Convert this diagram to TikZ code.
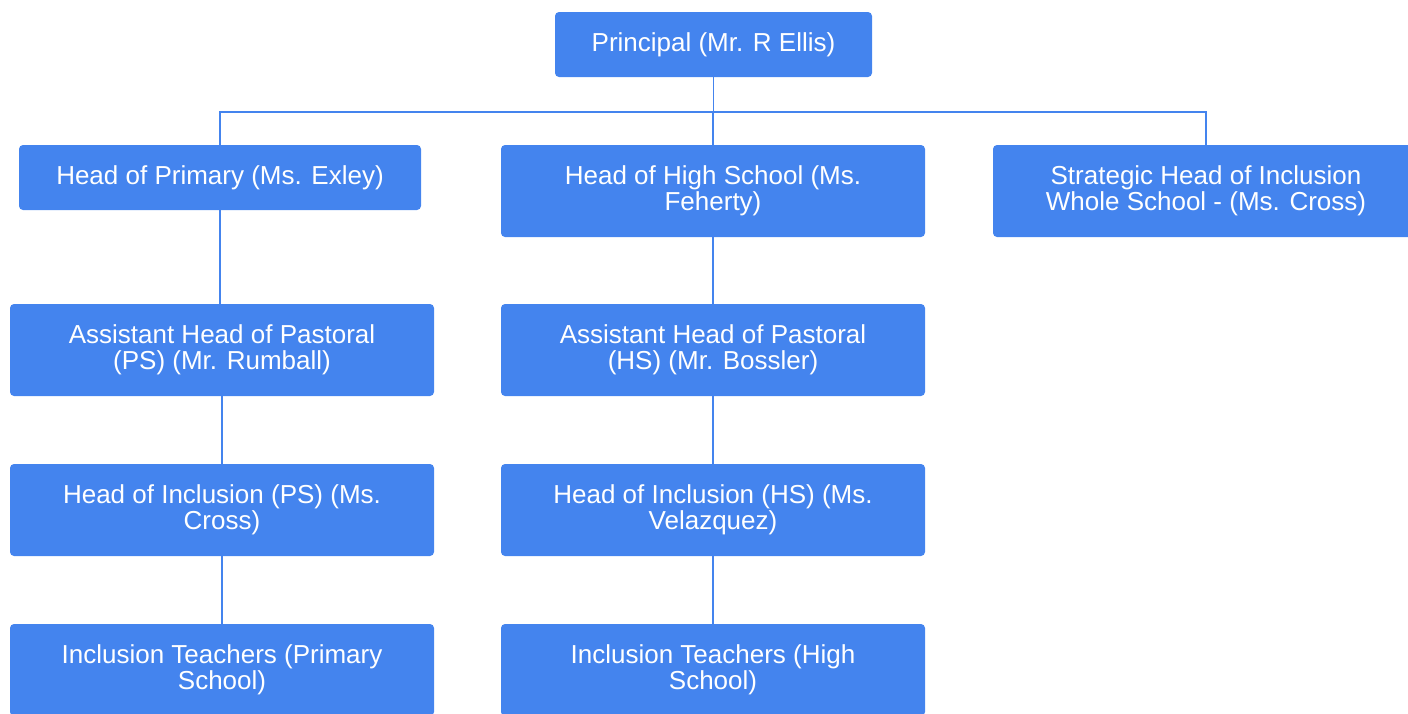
\documentclass[tikz,border=0pt]{standalone}
\usepackage{fontspec}
\setmainfont{Liberation Sans}
\usepackage{tikz}
\usetikzlibrary{calc}

\definecolor{boxblue}{RGB}{68,132,238}

\tikzset{
	role/.style={rectangle, rounded corners=4pt, fill=boxblue, text=white,
		align=center, inner sep=0pt, minimum width=424pt, minimum height=92pt,
		font=\fontsize{26}{26}\selectfont},
	link/.style={draw=boxblue, line width=1.6pt}
}

\begin{document}
\begin{tikzpicture}[x=1pt,y=-1pt]
	\useasboundingbox (0,0) rectangle (1408,713);
	\clip (0,0) rectangle (1408,713);
	
	\node[role, minimum width=317pt, minimum height=65pt] (principal) at (713.5,44.5) {Principal (Mr. R Ellis)};
	
	\node[role, minimum width=402pt, minimum height=65pt] (primary) at (220,177.5) {Head of Primary (Ms. Exley)};
	\node[role] (high) at (713,191) {Head of High School (Ms.\\Feherty)};
	\node[role, minimum width=426pt] (strategic) at (1206,191) {Strategic Head of Inclusion\\Whole School - (Ms. Cross)};
	
	\node[role] (pastps) at (222,350) {Assistant Head of Pastoral\\(PS) (Mr. Rumball)};
	\node[role] (pasths) at (713,350) {Assistant Head of Pastoral\\(HS) (Mr. Bossler)};
	
	\node[role] (inclps) at (222,510) {Head of Inclusion (PS) (Ms.\\Cross)};
	\node[role] (inclhs) at (713,510) {Head of Inclusion (HS) (Ms.\\Velazquez)};
	
	\node[role] (teachps) at (222,670) {Inclusion Teachers (Primary\\School)};
	\node[role] (teachhs) at (713,670) {Inclusion Teachers (High\\School)};
	
	\coordinate (bus) at (713.5,112);
	
	\draw[link] (principal) -- (bus);
	\draw[link] (primary.north) |- (bus) -| (strategic.north);
	\draw[link] (high.north) -- (high.north |- bus);
	
	\draw[link] (primary.south) -- (primary.south |- pastps.north);
	\draw[link] (pastps) -- (inclps);
	\draw[link] (inclps) -- (teachps);
	
	\draw[link] (high) -- (pasths);
	\draw[link] (pasths) -- (inclhs);
	\draw[link] (inclhs) -- (teachhs);
\end{tikzpicture}
\end{document}
